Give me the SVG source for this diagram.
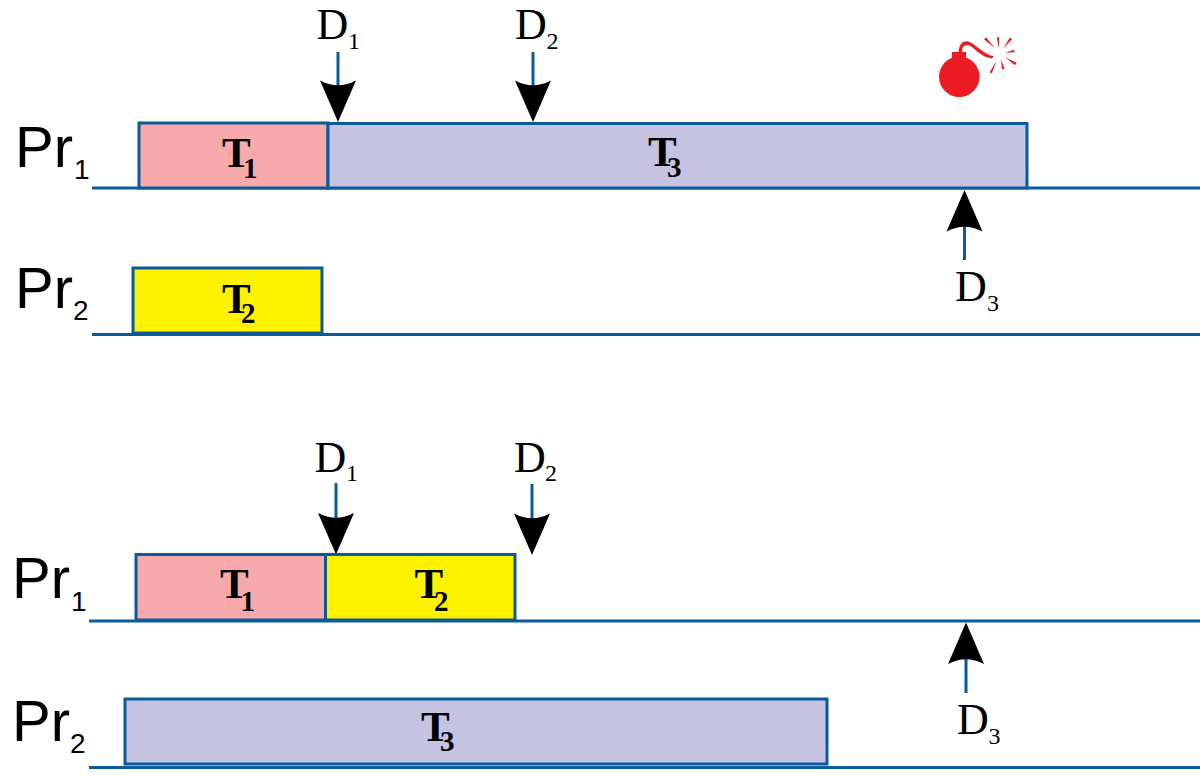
<svg xmlns="http://www.w3.org/2000/svg" width="1200" height="775" viewBox="0 0 1200 775">
<defs><style>
.b{stroke:#0b5a9a;stroke-width:3;}
.l{stroke:#0b5a9a;stroke-width:3;fill:none}
.a{fill:#000;stroke:none}
.pr{font-family:"Liberation Sans",Arial,sans-serif;font-size:58px;fill:#000}
.prs{font-family:"Liberation Sans",Arial,sans-serif;font-size:28px;fill:#000}
.d{font-family:"Liberation Serif","Times New Roman",serif;font-size:44px;fill:#000}
.ds{font-family:"Liberation Serif","Times New Roman",serif;font-size:24px;fill:#000}
.t{font-family:"Liberation Serif","Times New Roman",serif;font-size:43px;font-weight:bold;fill:#000}
.ts{font-family:"Liberation Serif","Times New Roman",serif;font-size:29px;font-weight:bold;fill:#000}
.r{fill:#ed1c24;stroke:none}
</style>
<path id="down" class="a" d="M-18 -41.500 Q0 -32 18 -41.500 L0 0 Z"/>
</defs>
<rect width="1200" height="775" fill="#fff"/>
<g id="axes">
<path class="l" d="M92 188H1200M92 334.500H1200M89 621H1200M89 767.500H1200"/>
</g>
<g id="connectors">
<path class="l" d="M338 52V90M533 52V90M964.500 260V225M336 483V520M532 484V520M966 693V655"/>
<use href="#down" x="338" y="122"/>
<use href="#down" x="533" y="122"/>
<use href="#down" transform="translate(964.500 190) scale(1 -1)"/>
<use href="#down" x="336" y="554.500"/>
<use href="#down" x="532" y="555"/>
<use href="#down" transform="translate(966 622.500) scale(1 -1)"/>
</g>
<g id="top-T1"><rect class="b" x="139" y="123" width="189" height="65" fill="#f8a9ab"/><text class="t" x="222" y="167">T</text><text class="ts" x="243" y="178">1</text></g>
<g id="top-T3"><rect class="b" x="328" y="123.500" width="699" height="64.500" fill="#c5c3e1"/><text class="t" x="648" y="166">T</text><text class="ts" x="667" y="177">3</text></g>
<g id="top-T2"><rect class="b" x="133" y="268" width="189" height="65" fill="#fff200"/><text class="t" x="222" y="312.500">T</text><text class="ts" x="241" y="322.500">2</text></g>
<g id="bottom-T1"><rect class="b" x="136" y="554.500" width="189.500" height="65.500" fill="#f8a9ab"/><text class="t" x="220" y="598">T</text><text class="ts" x="240.500" y="611">1</text></g>
<g id="bottom-T2"><rect class="b" x="325.500" y="554.500" width="189.500" height="65.500" fill="#fff200"/><text class="t" x="414.500" y="598">T</text><text class="ts" x="434" y="610.500">2</text></g>
<g id="bottom-T3"><rect class="b" x="125" y="699" width="702" height="65" fill="#c5c3e1"/><text class="t" x="421" y="740.500">T</text><text class="ts" x="440" y="751">3</text></g>
<g id="labels">
<text class="pr" x="15" y="167">Pr</text><text class="prs" x="74" y="179">1</text>
<text class="pr" x="15" y="308">Pr</text><text class="prs" x="73" y="320">2</text>
<text class="pr" x="12" y="598">Pr</text><text class="prs" x="71" y="611">1</text>
<text class="pr" x="12" y="741">Pr</text><text class="prs" x="70" y="753">2</text>
<text class="d" x="316.500" y="39">D</text><text class="ds" x="348" y="49">1</text>
<text class="d" x="515" y="39">D</text><text class="ds" x="546.500" y="49">2</text>
<text class="d" x="955" y="301">D</text><text class="ds" x="987" y="311">3</text>
<text class="d" x="314.500" y="471.500">D</text><text class="ds" x="346" y="481">1</text>
<text class="d" x="514" y="471.500">D</text><text class="ds" x="545" y="481">2</text>
<text class="d" x="957" y="734">D</text><text class="ds" x="988.500" y="744">3</text>
</g>
<g id="bomb">
<circle class="r" cx="959.300" cy="76.700" r="20.300"/>
<rect class="r" x="952" y="52" width="14" height="8"/>
<path class="r" d="M958.500 53C959 44 963 40.500 968 41.500C975 43 981 53 994 56.500L992 58.500C980 57 973 46 968 45C964 44.500 962 47 962 53Z"/>
<path class="r" d="M984 39.300L986 37.300L995 48.300ZM996.800 37.300L999.200 37.300L998.700 48.300ZM1010 37.300L1012 39.300L1003.300 48.300ZM1014 49.800L1014.600 52.200L1005 52.700ZM1016.500 62.800L1015 65.200L1005 57.300ZM1002 69.300L1004.600 68.700L1001 59.300ZM989.600 72.200L991.800 73.200L996.700 60.700Z"/>
</g>
</svg>
